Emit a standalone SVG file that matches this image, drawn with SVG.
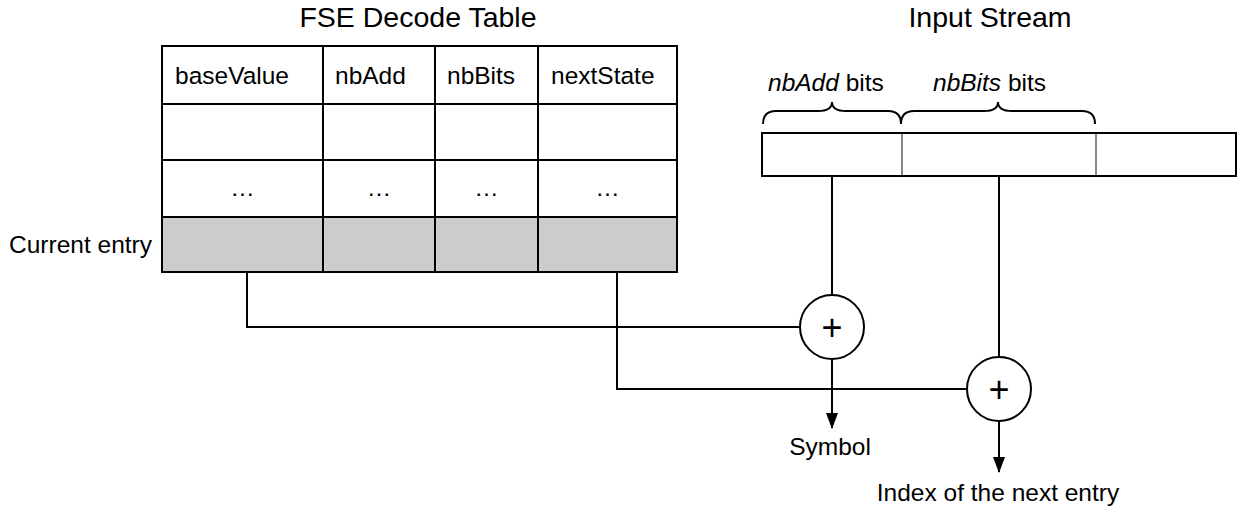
<svg xmlns="http://www.w3.org/2000/svg" width="1239" height="508" viewBox="0 0 1239 508">
<style>
text{font-family:"Liberation Sans",Arial,sans-serif;fill:#000}
.title{font-size:28.5px;text-anchor:middle}
.lbl{font-size:24.5px}
.mid{text-anchor:middle}
.cell{fill:#fff;stroke:#000;stroke-width:2}
.cur{fill:#cccccc;stroke:#000;stroke-width:2}
.wire{fill:none;stroke:#000;stroke-width:2}
.div{stroke:#888;stroke-width:2}
.add{fill:#fff;stroke:#000;stroke-width:2}
.plus{font-size:36px;text-anchor:middle}
</style>
<defs>
<marker id="arr" markerWidth="16" markerHeight="12" refX="15" refY="6" orient="auto" markerUnits="userSpaceOnUse" viewBox="0 0 16 12">
<path d="M0,0 L16,6 L0,12 Z" fill="#000"/>
</marker>
</defs>
<text class="title" x="418" y="27">FSE Decode Table</text>
<text class="title" x="990" y="27">Input Stream</text>

<g id="table">
<rect class="cell" x="162" y="46" width="515" height="171"/>
<rect class="cur" x="162" y="217" width="515" height="55"/>
<path class="wire" d="M162,104H677M162,160H677M323,46V272M435,46V272M538,46V272"/>
<text class="lbl" x="175" y="84">baseValue</text>
<text class="lbl" x="335" y="84">nbAdd</text>
<text class="lbl" x="447" y="84">nbBits</text>
<text class="lbl" x="551" y="84">nextState</text>
<text class="lbl mid" x="242.5" y="196" fill="#333">…</text>
<text class="lbl mid" x="379" y="196" fill="#333">…</text>
<text class="lbl mid" x="486.5" y="196" fill="#333">…</text>
<text class="lbl mid" x="607.5" y="196" fill="#333">…</text>
<text class="lbl" x="152" y="253" text-anchor="end">Current entry</text>
</g>

<g id="stream">
<rect class="cell" x="762" y="133" width="474" height="43"/>
<path class="div" d="M902,134V175M1096,134V175"/>
<path class="wire" d="M763,124Q763,111 776,111L818,111Q832,111 832,102Q832,111 846,111L888,111Q901,111 901,124"/>
<path class="wire" d="M901,124Q901,111 914,111L984,111Q998,111 998,102Q998,111 1012,111L1082,111Q1095,111 1095,124"/>
<text class="lbl" x="768" y="91"><tspan font-style="italic">nbAdd</tspan> bits</text>
<text class="lbl" x="933" y="91"><tspan font-style="italic">nbBits</tspan> bits</text>
</g>

<g id="connectors">
<path class="wire" d="M247,272V327H800"/>
<path class="wire" d="M617,272V389H967"/>
<path class="wire" d="M832,176V295"/>
<path class="wire" d="M999,176V357"/>
<path class="wire" d="M832,359V428" marker-end="url(#arr)"/>
<path class="wire" d="M999,421V472" marker-end="url(#arr)"/>
</g>

<g id="add1">
<circle class="add" cx="832" cy="327" r="32"/>
<text class="plus" x="832" y="339.5">+</text>
</g>
<g id="add2">
<circle class="add" cx="999" cy="389" r="32"/>
<text class="plus" x="999" y="401.5">+</text>
</g>

<text class="lbl mid" x="830" y="455">Symbol</text>
<text class="lbl mid" x="998" y="501">Index of the next entry</text>
</svg>
